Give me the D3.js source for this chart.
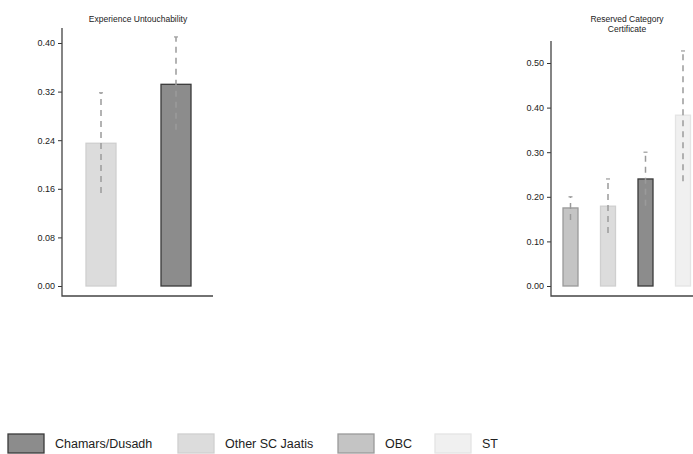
<!DOCTYPE html>
<html>
<head>
<meta charset="utf-8">
<script src="https://cdn.jsdelivr.net/npm/d3@7"></script>
<style>
  body { margin: 0; background: #fff; }
  svg { display: block; font-family: "Liberation Sans", Arial, sans-serif; }
</style>
</head>
<body>
<div id="chart"></div>
<script>
// groups and their fills
const groups = ["Chamars/Dusadh", "Other SC Jaatis", "OBC", "ST"];
const fills = ["#8c8c8c", "#dcdcdc", "#c4c4c4", "#f0f0f0"];
const strokes = ["#3a3a3a", "#cfcfcf", "#9a9a9a", "#e4e4e4"];

// panel 1: Experience Untouchability
const untouchGroups = ["Other SC Jaatis", "Chamars/Dusadh"];
const untouchMean = [0.235, 0.332];
const untouchLo = [0.153, 0.257];
const untouchHi = [0.318, 0.410];
const untouchTicks = [0, 0.08, 0.16, 0.24, 0.32, 0.40];

// panel 2: Reserved Category Certificate
const certGroups = ["OBC", "Other SC Jaatis", "Chamars/Dusadh", "ST"];
const certMean = [0.175, 0.179, 0.240, 0.383];
const certLo = [0.148, 0.119, 0.180, 0.235];
const certHi = [0.200, 0.240, 0.300, 0.527];
const certTicks = [0, 0.1, 0.2, 0.3, 0.4, 0.5];

const W = 693, H = 454;
const svg = d3.select("#chart").append("svg")
  .attr("width", W).attr("height", H);

const color = d3.scaleOrdinal().domain(groups).range(fills);
const edge = d3.scaleOrdinal().domain(groups).range(strokes);

function panel(opts) {
  const g = svg.append("g");
  const y = d3.scaleLinear().domain(opts.domain).range([286, opts.top0]);
  const x = d3.scaleBand().domain(opts.cats)
    .range([opts.x0, opts.x1]).paddingInner(0.6).paddingOuter(0.4);

  // title
  const t = g.append("text")
    .attr("x", opts.titleX).attr("y", 22)
    .attr("text-anchor", "middle")
    .attr("font-size", 8.5).attr("fill", "#222");
  opts.title.forEach((line, i) => {
    t.append("tspan").attr("x", opts.titleX).attr("dy", i ? 10 : 0).text(line);
  });

  // y axis
  const yAxis = d3.axisLeft(y).tickValues(opts.ticks).tickSize(4).tickPadding(3)
    .tickFormat(d3.format(".2f"));
  const ya = g.append("g").attr("transform", `translate(${opts.axisX},0)`).call(yAxis);
  ya.select(".domain").remove();
  ya.selectAll("line").attr("stroke", "#333");
  ya.selectAll("text").attr("font-size", 9).attr("fill", "#222");

  // axis lines (L shape)
  g.append("path")
    .attr("d", `M${opts.axisX},${opts.axisTop}V296H${opts.axisRight}`)
    .attr("fill", "none").attr("stroke", "#444").attr("stroke-width", 1.3);

  // bars
  g.selectAll(".bar").data(opts.cats).join("rect")
    .attr("x", d => x(d)).attr("width", x.bandwidth())
    .attr("y", (d, i) => y(opts.mean[i]))
    .attr("height", (d, i) => y(0) - y(opts.mean[i]))
    .attr("fill", d => color(d))
    .attr("stroke", d => edge(d)).attr("stroke-width", 1.3);

  // error bars
  g.selectAll(".err").data(opts.cats).join("line")
    .attr("x1", d => x(d) + x.bandwidth() / 2)
    .attr("x2", d => x(d) + x.bandwidth() / 2)
    .attr("y1", (d, i) => y(opts.lo[i]))
    .attr("y2", (d, i) => y(opts.hi[i]))
    .attr("stroke", "#9a9a9a").attr("stroke-width", 1.5)
    .attr("stroke-dasharray", "6,5");
  g.selectAll(".cap").data(opts.cats).join("line")
    .attr("x1", d => x(d) + x.bandwidth() / 2 - 2)
    .attr("x2", d => x(d) + x.bandwidth() / 2 + 2)
    .attr("y1", (d, i) => y(opts.hi[i]))
    .attr("y2", (d, i) => y(opts.hi[i]))
    .attr("stroke", "#9a9a9a").attr("stroke-width", 1.2);
}

panel({
  cats: untouchGroups, mean: untouchMean, lo: untouchLo, hi: untouchHi,
  ticks: untouchTicks, domain: [0, 0.40], top0: 43,
  x0: 56, x1: 221,
  axisX: 62, axisTop: 28, axisRight: 213,
  title: ["Experience Untouchability"], titleX: 138
});

panel({
  cats: certGroups, mean: certMean, lo: certLo, hi: certHi,
  ticks: certTicks, domain: [0, 0.50], top0: 63,
  x0: 548, x1: 705.5,
  axisX: 551, axisTop: 41, axisRight: 693,
  title: ["Reserved Category", "Certificate"], titleX: 627
});

// legend
const legendX = [8, 178, 338, 435];
const lg = svg.append("g");
groups.forEach((name, i) => {
  lg.append("rect")
    .attr("x", legendX[i]).attr("y", 434).attr("width", 36).attr("height", 19)
    .attr("fill", color(name)).attr("stroke", edge(name)).attr("stroke-width", 1.3);
  lg.append("text")
    .attr("x", legendX[i] + 47).attr("y", 448)
    .attr("font-size", 12.5).attr("fill", "#222").text(name);
});
</script>
</body>
</html>
